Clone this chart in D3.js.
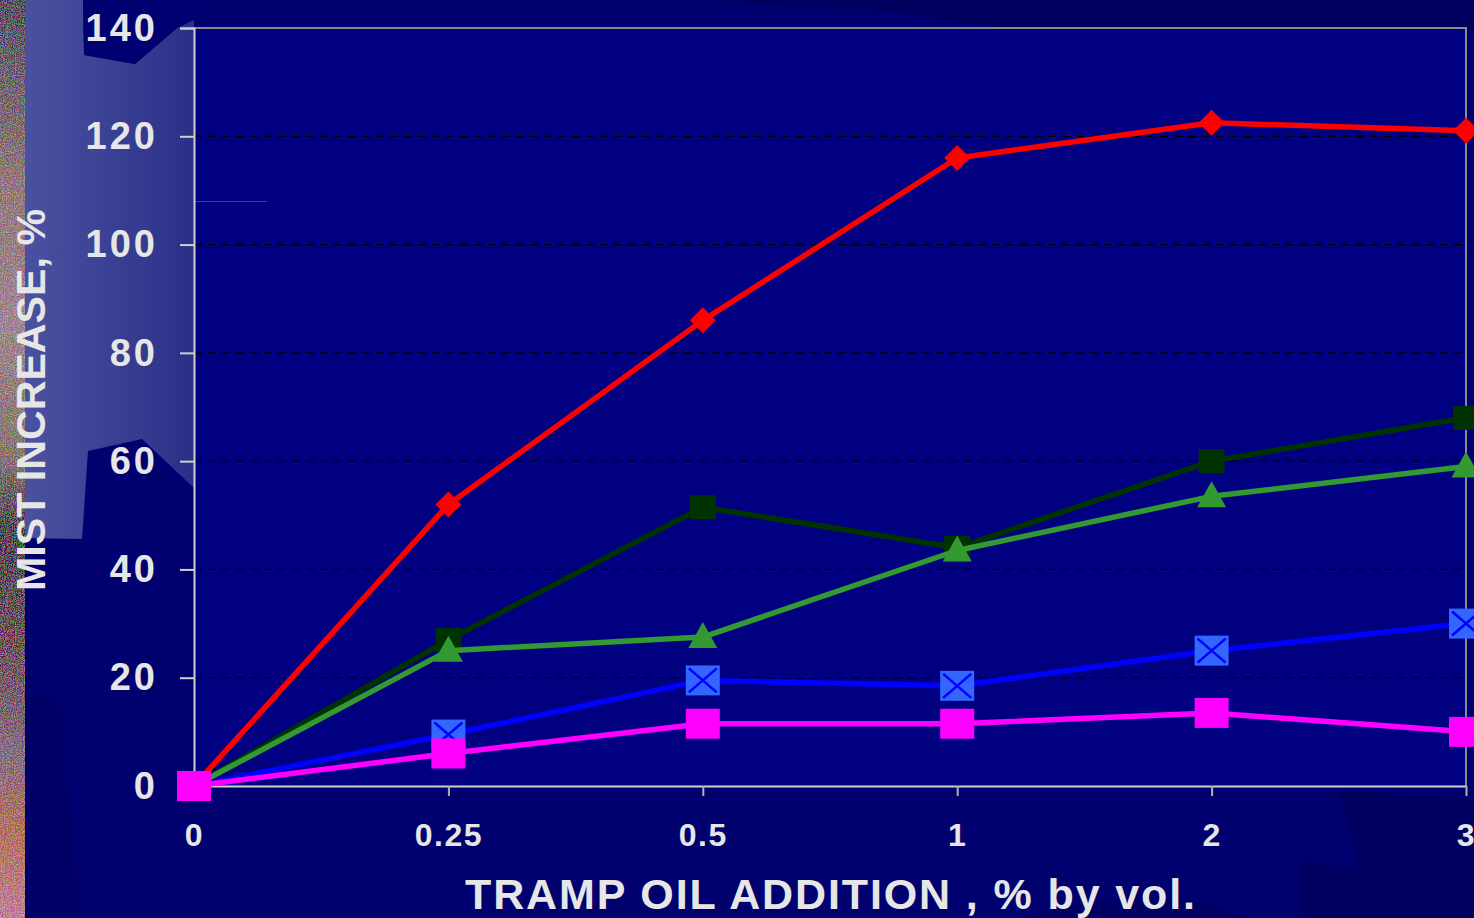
<!DOCTYPE html>
<html>
<head>
<meta charset="utf-8">
<script src="https://cdn.jsdelivr.net/npm/d3@7"></script>
<style>
  html, body { margin: 0; padding: 0; background: #00006e; overflow: hidden; }
  svg { display: block; }
  text { font-family: "Liberation Sans", Arial, sans-serif; font-weight: bold; fill: #e6e6e6; }
</style>
</head>
<body>
<svg id="chart" width="1474" height="918"></svg>
<script>
// Tramp oil addition levels (% by volume) and mist increase (%) per fluid
const categories = ["0", "0.25", "0.5", "1", "2", "3"];
const redSeries       = [0, 52, 86, 116, 122.5, 121];
const darkGreenSeries = [0, 27, 51.5, 44, 60, 68];
const greenSeries     = [0, 25, 27.5, 43.5, 53.5, 59];
const blueSeries      = [0, 9.5, 19.5, 18.5, 25, 30];
const magentaSeries   = [0, 6, 11.5, 11.5, 13.5, 10];
const yTicks = [0, 20, 40, 60, 80, 100, 120, 140];
const gridValues = [20, 40, 60, 80, 100, 120];
const xTitle = "TRAMP OIL ADDITION , % by vol.";
const yTitle = "MIST INCREASE, %";

const W = 1474, H = 918;
const margin = { top: 28, right: 8, bottom: 132, left: 194 };
const svg = d3.select("#chart");

// ---- slide background ----
const defs = svg.append("defs");
const lg = defs.append("linearGradient").attr("id", "panel").attr("x1", 0).attr("x2", 1).attr("y1", 0).attr("y2", 0);
lg.append("stop").attr("offset", 0).attr("stop-color", "#4a52a0");
lg.append("stop").attr("offset", 1).attr("stop-color", "#2a3088");

const strip = defs.append("linearGradient").attr("id", "strip").attr("x1", 0).attr("x2", 0).attr("y1", 0).attr("y2", 1);
[[0, "#2a1a3a"], [0.08, "#4a3a4a"], [0.2, "#7a5a5a"], [0.35, "#8a6a7a"], [0.5, "#6a5a4a"],
 [0.58, "#1a0a1a"], [0.7, "#4a1a2a"], [0.82, "#6a4a6a"], [0.9, "#a05030"], [1, "#b06080"]]
  .forEach(([o, c]) => strip.append("stop").attr("offset", o).attr("stop-color", c));

const noise = defs.append("filter").attr("id", "grain").attr("x", 0).attr("y", 0).attr("width", 1).attr("height", 1);
noise.append("feTurbulence").attr("type", "fractalNoise").attr("baseFrequency", 0.9).attr("numOctaves", 2).attr("seed", 3).attr("result", "t");
noise.append("feColorMatrix").attr("in", "t").attr("type", "matrix")
  .attr("values", "1.6 0 0 0 -0.65  0 1.6 0 0 -0.65  0 0 1.6 0 -0.65  0 0 0 0 0.6").attr("result", "n");
noise.append("feComposite").attr("in", "n").attr("in2", "SourceGraphic").attr("operator", "arithmetic")
  .attr("k1", 0).attr("k2", 1).attr("k3", 1).attr("k4", 0);

const bg = svg.append("g");
bg.append("rect").attr("width", W).attr("height", H).attr("fill", "#00006e");
// darker facets
bg.append("polygon").attr("points", "700,0 1474,0 1474,30 1000,28 900,12").attr("fill", "#00005e");
bg.append("polygon").attr("points", "1340,790 1474,800 1474,918 1300,918 1300,860 1360,870").attr("fill", "#000060");
bg.append("polygon").attr("points", "0,690 60,700 80,918 0,918").attr("fill", "#000066");
bg.append("polygon").attr("points", "1010,918 1160,890 1250,918").attr("fill", "#000064");
// lighter panel at the left
bg.append("polygon")
  .attr("points", "25,0 83,0 84,55 135,64 177,28 194,20 194,488 142,439 88,451 82,539 25,538")
  .attr("fill", "url(#panel)");
// upper dark cap near the top label
bg.append("polygon").attr("points", "83,0 84,55 135,64 177,28 210,12 233,0").attr("fill", "#000070");
// textured edge strip
bg.append("rect").attr("x", 0).attr("y", 0).attr("width", 25).attr("height", H)
  .attr("fill", "url(#strip)").attr("filter", "url(#grain)");

// ---- scales ----
const x = d3.scalePoint().domain(categories).range([margin.left, W - margin.right]);
const y = d3.scaleLinear().domain([0, 140]).range([H - margin.bottom, margin.top]);

// plot area
svg.append("rect")
  .attr("x", margin.left).attr("y", margin.top)
  .attr("width", W - margin.right - margin.left).attr("height", y(0) - margin.top)
  .attr("fill", "#000080");
svg.append("line").attr("x1", 194).attr("x2", 267).attr("y1", 201.5).attr("y2", 201.5)
  .attr("stroke", "#3a40a0").attr("stroke-width", 1);

// gridlines
svg.append("g").selectAll("line").data(gridValues).join("line")
  .attr("x1", margin.left).attr("x2", W - margin.right)
  .attr("y1", d => y(d)).attr("y2", d => y(d))
  .attr("stroke", "#000000").attr("stroke-width", 1.3).attr("stroke-dasharray", "8,6");

// frame (top and right)
svg.append("path")
  .attr("d", `M${margin.left},${margin.top}H${W - margin.right}V${y(0)}`)
  .attr("fill", "none").attr("stroke", "#8a8a8a").attr("stroke-width", 2);

// axes
const yAxis = svg.append("g").attr("transform", `translate(${margin.left},0)`)
  .call(d3.axisLeft(y).tickValues(yTicks).tickSize(14).tickPadding(22).tickFormat(d3.format("d")));
yAxis.select(".domain").attr("stroke", "#d0d0d0").attr("stroke-width", 2);
yAxis.selectAll(".tick line").attr("stroke", "#d0d0d0").attr("stroke-width", 2);
yAxis.selectAll("text").attr("font-size", 38).attr("letter-spacing", 3).attr("fill", "#e6e6e6")
  .style("font-family", '"Liberation Sans", Arial, sans-serif').style("font-weight", "bold");

const xAxis = svg.append("g").attr("transform", `translate(0,${y(0)})`)
  .call(d3.axisBottom(x).tickSize(10).tickPadding(27).tickSizeOuter(0));
xAxis.select(".domain").attr("stroke", "#d0d0d0").attr("stroke-width", 2);
xAxis.selectAll(".tick line").attr("stroke", "#b0b0b0").attr("stroke-width", 2);
xAxis.selectAll("text").attr("font-size", 32).attr("letter-spacing", 1.5).attr("fill", "#e6e6e6")
  .style("font-family", '"Liberation Sans", Arial, sans-serif').style("font-weight", "bold");

// titles
svg.append("text").attr("x", 830).attr("y", 909).attr("text-anchor", "middle")
  .attr("font-size", 43).attr("textLength", 730).attr("lengthAdjust", "spacing").text(xTitle);
svg.append("text").attr("transform", "translate(45,400) rotate(-90)").attr("text-anchor", "middle")
  .attr("font-size", 41).attr("textLength", 382).attr("lengthAdjust", "spacingAndGlyphs").text(yTitle);

// ---- series ----
const line = d3.line().x((d, i) => x(categories[i])).y(d => y(d));
const series = [
  { values: redSeries, stroke: "#ff0000", marker: "diamond", fill: "#ff0000" },
  { values: darkGreenSeries, stroke: "#003300", marker: "square", fill: "#003300", w: 26, h: 24 },
  { values: greenSeries, stroke: "#339933", marker: "triangle", fill: "#339933" },
  { values: blueSeries, stroke: "#0000ff", marker: "xsquare", fill: "#3366ff" },
  { values: magentaSeries, stroke: "#ff00ff", marker: "square", fill: "#ff00ff", w: 34, h: 30 }
];

series.forEach(s => {
  const g = svg.append("g");
  g.append("path").datum(s.values).attr("d", line)
    .attr("fill", "none").attr("stroke", s.stroke).attr("stroke-width", 5.5).attr("stroke-linejoin", "round");
  const pts = g.selectAll("g.pt").data(s.values).join("g").attr("class", "pt")
    .attr("transform", (d, i) => `translate(${x(categories[i])},${y(d)})`);
  if (s.marker === "diamond") {
    pts.append("path").attr("d", "M0,-13L13,0L0,13L-13,0Z").attr("fill", s.fill);
  } else if (s.marker === "square") {
    pts.append("rect").attr("x", -s.w / 2).attr("y", -s.h / 2).attr("width", s.w).attr("height", s.h).attr("fill", s.fill);
  } else if (s.marker === "triangle") {
    pts.append("path").attr("d", "M0,-15L14.5,11L-14.5,11Z").attr("fill", s.fill);
  } else if (s.marker === "xsquare") {
    pts.append("rect").attr("x", -17).attr("y", -15).attr("width", 34).attr("height", 30).attr("fill", s.fill);
    pts.append("path").attr("d", "M-14,-12L14,12M14,-12L-14,12").attr("stroke", "#0000ff").attr("stroke-width", 2.5);
  }
});
</script>
</body>
</html>
